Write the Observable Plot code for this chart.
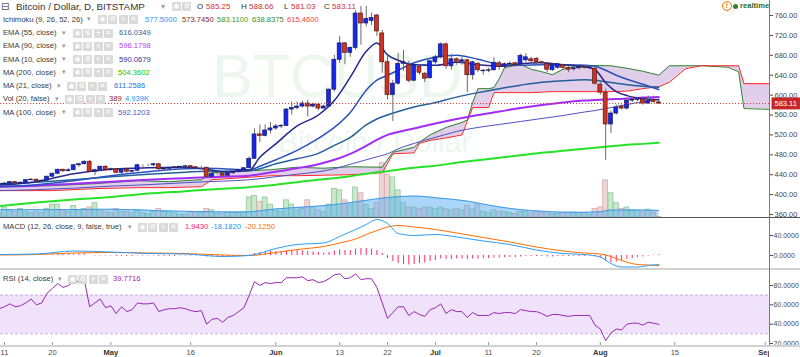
<!DOCTYPE html>
<html><head><meta charset="utf-8">
<script src="https://cdn.jsdelivr.net/npm/d3@7"></script>
<script src="https://cdn.jsdelivr.net/npm/@observablehq/plot@0.6"></script>
<style>
html,body{margin:0;padding:0;background:#fff}
#wrap{position:relative;width:800px;height:357px;overflow:hidden;font-family:"Liberation Sans",Arial,sans-serif}
#wrap svg{max-width:none !important}
.t{position:absolute;white-space:nowrap;line-height:1.2}
.ic{position:absolute;width:9px;height:9px;background:#dadada;color:#fff;font-size:7px;line-height:9px;text-align:center;font-family:"DejaVu Sans",sans-serif;border-radius:1px}
.wm{position:absolute;white-space:nowrap;line-height:1;color:#eef7ee}
.blk{position:absolute}
</style></head><body><div id="wrap"></div><script>
// ---------------- DATA (daily candles, 2016-04-10 .. 2016-08-12) ----------------
const candleStart = "2016-04-10";
const opens = [419,421,422,425,423,424,429,430,427,428,436,442,450,447,449,459,461,466,446,449,456,
450,451,444,450,446,448,459,459,459,461,451,452,454,455,456,457,455,454,454,436,442,442,438,443,445,449,453,472,521,518,529,
533,537,538,571,574,577,583,577,581,573,577,611,671,704,685,695,764,744,749,760,724,666,600,623,663,660,629,657,643,634,
666,676,702,658,672,667,670,640,663,648,649,650,664,657,662,664,662,670,672,673,666,663,650,655,660,655,652,654,656,655,653,
621,605,541,563,577,573,589,590,591,583,590,585.25];
const highs = [422,424,427,426,425,431,432,431,429,437,443,451,451,452,461,463,468,469,451,457,458,
453,452,451,451,449,461,460,461,463,462,453,455,456,457,459,458,456,457,455,444,444,443,445,446,450,454,476,532,540,540,545,
541,541,573,586,586,588,590,584,582,580,612,680,718,706,697,770,778,778,765,762,730,680,630,684,690,668,662,660,645,670,
680,705,705,682,675,676,672,668,666,652,654,675,668,665,667,666,682,683,676,675,668,665,662,664,662,657,658,658,659,659,656,
627,612,568,580,580,592,596,594,593,598,598,588.66];
const lows = [418,420,421,421,422,423,428,425,426,427,434,440,444,446,448,455,460,444,438,447,447,
447,442,441,443,444,446,455,456,456,448,449,450,452,453,454,452,451,451,433,434,440,436,437,441,444,447,452,471,505,516,522,
529,533,537,560,570,574,556,574,568,572,576,606,664,661,676,690,700,737,740,718,644,590,547,620,648,625,627,640,625,632,
662,673,652,650,660,660,605,630,645,640,645,648,650,652,658,656,660,665,664,660,660,645,648,652,650,645,648,651,652,652,620,
600,469,523,560,570,570,585,587,580,581,584,581.03];
const closes = [421,422,425,423,424,429,430,427,428,436,442,450,447,449,459,461,466,446,449,456,450,
451,444,450,446,448,459,459,459,461,451,452,454,455,456,457,455,454,454,436,442,442,438,443,445,449,453,472,521,518,529,533,
537,538,571,574,577,583,577,581,573,577,611,671,704,685,695,764,744,753,755,728,666,600,623,663,666,629,660,645,633,668,
676,702,658,672,667,670,640,666,650,649,650,665,657,662,663,661,679,676,668,666,665,651,660,662,655,651,654,656,655,656,623,
605,541,563,575,573,589,590,591,583,589,586,583.11];
// volume in thousands of BTC
const volumes = [3,7,5,4,6,4,3,4,3.5,6,9,9,5,4,8,5,6,7,10,5,4,
3,6,4,4,3,5,3,2.5,4,6,4,3.5,3,2,2,4,3.5,3,6,5,2.5,2.5,3.5,3,3.5,4,14,15,11,14,9,
5,4,12,9,5,6,12,7,5,4,9,20,19,12,9,21,17,9,6,10,38,30,28,19,10,7,7,6,7,7,
6,7,6,5,6,5,8,6,9,4,3,5,4,4,3,2.5,4,4,3,4,3,4,2.5,2.5,3,3,3.5,3,3,2,6,
7,26,17,10,6,7,5,4.5,4,5.5,3.5,0.389];
const rsiValues = [56,58,61,58,59,62,66,60,62,72,77,82,78,80,84,84,86,58,62,66,57,
59,51,58,53,55,62,61,61,62,53,55,56,56,57,56,54,53,54,40,45,46,42,47,49,53,57,70,84,80,83,82,
83,83,88,88,88,89,85,86,83,84,87,91,92,87,88,92,86,87,87,78,62,46,52,58,58,49,53,50,48,55,
57,61,51,55,53,53,47,52,49,49,49,52,51,52,52,51,55,54,53,53,51,48,50,50,49,48,49,49,49,49,39,
35,23,31,35,34,40,41,41,39,42,41,39.77];
const macdHist = [1,1,1,0,0,1,1,0,0,1,2,3,2,2,3,3,3,0,-1,-1,-1,
-1,-2,-2,-2,-2,-1,-1,-1,-1,-2,-2,-2,-2,-1,-1,-1,-1,-1,-3,-3,-3,-3,-3,-2,-2,-1,1,4,6,8,9,
8,7,9,10,10,9,8,7,6,5,6,9,11,10,10,13,14,14,13,10,4,-6,-12,-16,-18,-19,-18,-16,-15,-12,
-10,-7,-8,-8,-7,-7,-8,-7,-7,-6,-6,-5,-5,-4,-4,-4,-3,-2,-2,-2,-2,-3,-3,-2,-2,-2,-2,-2,-2,-1,-3,
-5,-12,-14,-13,-11,-8,-6,-4,-3,-1,1,1.943];

// moving averages read at sample dates
const maDates = ["2016-04-10","2016-04-17","2016-04-24","2016-05-01","2016-05-08","2016-05-15","2016-05-19","2016-05-22","2016-05-27","2016-05-29","2016-06-01","2016-06-05","2016-06-09","2016-06-12","2016-06-15","2016-06-18","2016-06-20","2016-06-22","2016-06-24","2016-06-27","2016-07-01","2016-07-05","2016-07-09","2016-07-13","2016-07-17","2016-07-21","2016-07-25","2016-07-29","2016-07-31","2016-08-02","2016-08-04","2016-08-06","2016-08-09","2016-08-12"];
const ema10 = [419,426,442,451,454,455,451,446,449,475,502,538,560,589,636,688,705,681,670,661,660,666,661,658,663,665,661,657,651,625,607,599,593,590.07];
const ma21  = [416,420,428,438,446,452,453,452,450,457,470,489,513,535,565,610,630,640,650,665,676,680,672,662,660,661,661,660,658,650,640,632,622,611.26];
const ema55 = [422,425,430,436,441,445,447,447,448,452,462,472,483,499,515,540,552,560,567,576,585,596,605,613,620,626,629,631,630,627,624,621,618,616.03];
const ema90 = [416,418,422,426,430,433,435,436,438,441,446,453,461,470,482,498,510,520,526,533,543,552,560,567,574,580,585,589,590,591,592,593,595,596.18];
const ma100 = [408,410,413,417,420,424,426,427,430,432,436,441,446,452,461,470,476,482,492,503,515,527,535,541,547,553,559,566,569,573,577,581,587,592.12];
const ma200 = [377,384,390,395,402,407,410,412,415,417,420,425,430,433,437,442,445,447,450,454,458,464,469,474,479,484,488,492,494,496,498,500,502,504.36];

// Ichimoku cloud (leading spans, shifted 26 bars ahead)
const cloudDates = ["2016-04-10","2016-04-20","2016-04-28","2016-05-06","2016-05-12","2016-05-18","2016-05-20","2016-05-23","2016-05-31","2016-06-05","2016-06-10","2016-06-15","2016-06-21","2016-06-23","2016-06-27","2016-06-28","2016-06-30","2016-07-03","2016-07-06","2016-07-07","2016-07-08","2016-07-09","2016-07-11","2016-07-12","2016-07-13","2016-07-14","2016-07-17","2016-07-19","2016-07-21","2016-07-23","2016-07-25","2016-07-28","2016-08-03","2016-08-06","2016-08-09","2016-08-12","2016-08-14","2016-08-17","2016-08-20","2016-08-25","2016-08-27","2016-08-28","2016-09-06"];
const spanA = [416,418,422,428,426,430,444,446,450,455,453,456,455,485,495,505,520,535,545,550,585,613,613,615,633,655,662,652,647,641,652,660,659,654,648,640,659,659,659,656,647,573,570];
const spanB = [408,408,412,414,414,416,430,432,438,438,439,440,444,482,484,503,509,514,520,548,575,575,575,605,605,605,605,605,606,607,607,607,607,608,613,617,626,653,659,659,659,623,623];

// MACD lines read at sample dates
const macdDates = ["2016-04-10","2016-04-17","2016-04-24","2016-05-01","2016-05-08","2016-05-15","2016-05-22","2016-05-27","2016-06-01","2016-06-05","2016-06-10","2016-06-13","2016-06-16","2016-06-18","2016-06-20","2016-06-22","2016-06-24","2016-06-27","2016-07-01","2016-07-05","2016-07-10","2016-07-15","2016-07-20","2016-07-25","2016-07-29","2016-08-01","2016-08-03","2016-08-05","2016-08-08","2016-08-10","2016-08-12"];
const macdLine   = [2,3,9,7,4,3,-2,0,14,22,25,38,52,62,72,64,44,40,42,37,29,22,11,4,2,-3,-16,-23,-23,-20,-18.18];
const signalLine = [1,2,5,6,5,4,1,0,6,12,18,25,33,42,50,57,60,57,52,45,36,27,17,9,5,3,-2,-10,-18,-19,-20.125];

// volume moving average (thousands)
const volMaDates = ["2016-04-10","2016-04-20","2016-05-01","2016-05-10","2016-05-20","2016-05-26","2016-06-01","2016-06-07","2016-06-12","2016-06-17","2016-06-22","2016-06-27","2016-07-02","2016-07-07","2016-07-12","2016-07-17","2016-07-22","2016-07-27","2016-08-01","2016-08-03","2016-08-08","2016-08-12"];
const volMa = [5.5,5.5,5.8,4.8,4,3.8,6,7.5,9,11.5,14,15,13.5,11.5,8,5.5,4.2,3.6,4,5.2,5.3,4.94];

const lastClose = 583.11;
const priceTicks = [360,400,440,480,520,560,600,640,680,720,760];
const macdTicks = [0,40];
const rsiTicks = [20,40,60,80];
const rsiBand = [30,70];
const xTickDates = ["2016-04-11","2016-04-20","2016-05-01","2016-05-16","2016-06-01","2016-06-13","2016-06-22","2016-07-01","2016-07-11","2016-07-20","2016-08-01","2016-08-15","2016-09-01"];
const xTickLabels = ["11","20","May","16","Jun","13","22","Jul","11","20","Aug","15","Sep"];

// ---------------- BUILD ----------------
const DAY = 864e5;
const parse = s => new Date(s + "T00:00:00Z");
const t0 = +parse(candleStart);
const xDomain = [new Date(t0 + 0.248 * DAY), new Date(t0 + 144.8 * DAY)];
const days = d3.utcDay.range(new Date(t0), new Date(t0 + opens.length * DAY));
const candles = days.map((date, i) => ({date, open: opens[i], high: highs[i], low: lows[i], close: closes[i], vol: volumes[i], rsi: rsiValues[i], hist: macdHist[i]}));
const mas = maDates.map((d, i) => ({date: parse(d), ema10: ema10[i], ma21: ma21[i], ema55: ema55[i], ema90: ema90[i], ma100: ma100[i], ma200: ma200[i]}));
const cloud = cloudDates.map((d, i) => ({date: parse(d), a: spanA[i], b: spanB[i]}));
const macdData = macdDates.map((d, i) => ({date: parse(d), macd: macdLine[i], signal: signalLine[i]}));
const volMaData = volMaDates.map((d, i) => ({date: parse(d), v: volMa[i]}));
const xTicks = xTickDates.map((d, i) => ({date: parse(d), label: xTickLabels[i], month: isNaN(+xTickLabels[i])}));

const up = d => d.close >= d.open;
const bx1 = w => d => new Date(+d.date - w * DAY);
const bx2 = w => d => new Date(+d.date + w * DAY);
const FONT = "'Liberation Sans', Arial, sans-serif";

function mk(h, yOpts, marks, xOpts = {axis: null}) {
  return Plot.plot({
    width: 800, height: h, marginLeft: 0, marginRight: 31, marginTop: 0, marginBottom: 0,
    x: {type: "utc", domain: xDomain, label: null, ...xOpts},
    y: {label: null, ...yOpts},
    color: {type: "identity"},
    style: {background: "transparent", fontFamily: FONT, fontSize: "7.5px", color: "#4a4a4a", overflow: "visible", maxWidth: "none"},
    marks
  });
}
const wrap = document.getElementById("wrap");
function place(el, top) { el.style.position = "absolute"; el.style.left = "0px"; el.style.top = top + "px"; wrap.appendChild(el); return el; }
function blk(l, t, w, h, bg) { const e = document.createElement("div"); e.className = "blk"; e.style.cssText = `left:${l}px;top:${t}px;width:${w}px;height:${h}px;background:${bg}`; wrap.appendChild(e); return e; }

// watermark
const wm1 = document.createElement("div"); wm1.className = "wm"; wm1.style.cssText += "left:212px;top:46px;font-size:61px"; wm1.textContent = "BTCUSD"; wrap.appendChild(wm1);
const wm2 = document.createElement("div"); wm2.className = "wm"; wm2.style.cssText += "left:278px;top:127px;font-size:30px"; wm2.textContent = "Bitcoin / Dollar"; wrap.appendChild(wm2);

// volume pane (own scale, behind price)
place(mk(217, {domain: [0, 152], axis: null}, [
  Plot.rect(candles, {x1: bx1(0.46), x2: bx2(0.46), y1: 0, y2: "vol", fill: d => up(d) ? "#cbe8cd" : "#efd6d6", stroke: d => up(d) ? "#8cc895" : "#d9abab", strokeWidth: 0.8, clip: true}),
  Plot.areaY(volMaData, {x: "date", y: "v", fill: "#5aaef2", fillOpacity: 0.5, curve: "monotone-x", clip: true}),
  Plot.lineY(volMaData, {x: "date", y: "v", stroke: "#3f9be8", strokeWidth: 1, curve: "monotone-x", clip: true})
]), 0);

// main price pane
const mainSvg = place(mk(217, {domain: [354, 790.2]}, [
  Plot.areaY(cloud, {x: "date", y1: "a", y2: "b", fill: "#c7a6da", fillOpacity: 0.55, clip: true}),
  Plot.lineY(cloud, {x: "date", y: "a", stroke: "#2f8a2f", strokeWidth: 1, clip: true}),
  Plot.lineY(cloud, {x: "date", y: "b", stroke: "#ff2424", strokeWidth: 1, clip: true}),
  Plot.lineY(mas, {x: "date", y: "ma200", stroke: "#27e327", strokeWidth: 2, curve: "monotone-x", clip: true}),
  Plot.lineY(mas, {x: "date", y: "ma100", stroke: "#4f52c0", strokeWidth: 1, curve: "monotone-x", clip: true}),
  Plot.lineY(mas, {x: "date", y: "ema90", stroke: "#a22cf5", strokeWidth: 2, curve: "monotone-x", clip: true}),
  Plot.lineY(mas, {x: "date", y: "ema55", stroke: "#22609a", strokeWidth: 1.5, curve: "monotone-x", clip: true}),
  Plot.lineY(mas, {x: "date", y: "ma21", stroke: "#2a52be", strokeWidth: 1.5, curve: "monotone-x", clip: true}),
  Plot.lineY(mas, {x: "date", y: "ema10", stroke: "#26288f", strokeWidth: 1.5, curve: "monotone-x", clip: true}),
  Plot.ruleX(candles, {x: "date", y1: "low", y2: "high", stroke: "#6b6b6b", strokeWidth: 1, clip: true}),
  Plot.rect(candles, {x1: bx1(0.37), x2: bx2(0.37), y1: "open", y2: "close", fill: d => up(d) ? "#1428f0" : "#cc3322", stroke: d => up(d) ? "#1b1b5e" : "#5e1410", strokeWidth: 0.7, clip: true}),
  Plot.ruleY([lastClose], {y: d => d, stroke: "#e53935", strokeDasharray: "1,2", strokeWidth: 1}),
  Plot.axisY({anchor: "right", ticks: priceTicks, tickFormat: d3.format(".2f"), tickSize: 3, tickPadding: 2, label: null}),
  Plot.text([lastClose], {y: d => d, frameAnchor: "right", dx: 5, textAnchor: "start", text: d => d.toFixed(2), fill: "#ffffff", fontSize: 7.5})
]), 0);
// price label box behind last-price text
{
  const lbl = [...mainSvg.querySelectorAll("text")].find(t => t.textContent === lastClose.toFixed(2));
  if (lbl) {
    const bb = lbl.getBBox();
    const r = document.createElementNS("http://www.w3.org/2000/svg", "rect");
    r.setAttribute("x", bb.x - 3); r.setAttribute("y", bb.y - 1.5);
    r.setAttribute("width", bb.width + 10); r.setAttribute("height", bb.height + 3);
    r.setAttribute("fill", "#c62828");
    if (lbl.getAttribute("transform")) r.setAttribute("transform", lbl.getAttribute("transform"));
    lbl.parentNode.insertBefore(r, lbl);
  }
}

// MACD pane
place(mk(50, {domain: [-26, 74]}, [
  Plot.ruleX(candles, {x: "date", y1: 0, y2: "hist", stroke: "#ff2a6a", strokeWidth: 1, clip: true}),
  Plot.lineY(macdData, {x: "date", y: "signal", stroke: "#ff6d00", strokeWidth: 1, curve: "monotone-x", clip: true}),
  Plot.lineY(macdData, {x: "date", y: "macd", stroke: "#2a9df4", strokeWidth: 1, curve: "monotone-x", clip: true}),
  Plot.axisY({anchor: "right", ticks: macdTicks, tickFormat: d3.format(".4f"), tickSize: 3, tickPadding: 1, fontSize: 7, label: null})
]), 218);

// RSI pane
place(mk(75, {domain: [17.93, 95.52]}, [
  Plot.areaY(xDomain, {x: d => d, y1: () => rsiBand[0], y2: () => rsiBand[1], fill: "#f1e2fc"}),
  Plot.ruleY(rsiBand, {y: d => d, stroke: "#c7aedb", strokeDasharray: "3,2"}),
  Plot.lineY(candles, {x: "date", y: "rsi", stroke: "#9a27b0", strokeWidth: 1, clip: true}),
  Plot.axisY({anchor: "right", ticks: rsiTicks, tickFormat: d3.format(".4f"), tickSize: 3, tickPadding: 1, fontSize: 7, label: null}),
  Plot.axisX({anchor: "bottom", ticks: xTicks.map(d => d.date), tickSize: -3, tickFormat: () => "", label: null, stroke: "#999"})
], {}), 270);

// x axis labels (clipped at right axis line)
{
  const box = document.createElement("div");
  box.style.cssText = "position:absolute;left:0;top:347px;width:769px;height:10px;overflow:hidden";
  const ax = mk(10, {domain: [0, 1], axis: null}, [
    Plot.text(xTicks.filter(d => !d.month), {x: "date", text: "label", frameAnchor: "middle", fill: "#4a4a4a", fontSize: 7.5}),
    Plot.text(xTicks.filter(d => d.month), {x: "date", text: "label", frameAnchor: "middle", fill: "#333", fontSize: 7.5, fontWeight: "bold"})
  ]);
  ax.style.position = "absolute"; ax.style.left = "0px"; ax.style.top = "0px"; ax.style.maxWidth = "none"; ax.style.width = "800px";
  box.appendChild(ax); wrap.appendChild(box);
}

// separators and axis line
blk(0, 217, 800, 1, "#555");
blk(0, 268, 800, 2, "#d2d2d2");
blk(0, 345, 800, 2, "#d2d2d2");
blk(769, 0, 1, 345, "#7a7a7a");

// ---------------- LEGEND TEXT ----------------
function txt(x, y, s, color, size = 7.6, weight = 400, fam) {
  const el = document.createElement("div"); el.className = "t";
  el.style.cssText = `left:${x}px;top:${y - size * 0.6}px;font-size:${size}px;color:${color};font-weight:${weight}` + (fam ? `;font-family:${fam}` : "");
  el.textContent = s; wrap.appendChild(el);
}
function icons(x, y, glyphs) {
  glyphs.forEach((g, k) => { const el = document.createElement("div"); el.className = "ic"; el.style.left = (x + k * 10.3) + "px"; el.style.top = (y - 4.5) + "px"; el.textContent = g; wrap.appendChild(el); });
}
const ICON4 = ["◉", "⚙", "+", "✕"];
const LBL = "#3a3a3a", ARR = "#9a9a9a";
txt(1, 6.5, "⊟", "#555", 10, 400, "'DejaVu Sans'");
txt(16, 6.5, "Bitcoin / Dollar, D, BITSTAMP", "#333", 9.8);
txt(161, 6.5, "▾", ARR, 8, 400, "'DejaVu Sans'");
icons(172, 6.5, ["◉", "⚙"]);
[["O", 197, "585.25", 206], ["H", 241, "588.66", 249], ["L", 284, "581.03", 291], ["C", 324, "583.11", 332]].forEach(([k, x1, v, x2]) => { txt(x1, 6.5, k, "#333", 8); txt(x2, 6.5, v, "#d32f2f", 8); });

txt(3, 19.5, "Ichimoku (9, 26, 52, 26)", LBL);
txt(87, 19.5, "▾", ARR, 7, 400, "'DejaVu Sans'");
icons(98, 19.5, ICON4);
[["577.5000", 145, "#2196f3"], ["573.7450", 182, "#8b1a1a"], ["583.1100", 217, "#459915"], ["638.8375", 252, "#3a8a30"], ["615.4600", 287, "#ff3b3b"]].forEach(([v, x, c]) => txt(x, 19.5, v, c));

const rows = [
  ["EMA (55, close)", 33, 62, 73, [["616.0349", 119, "#2962a8"]]],
  ["EMA (90, close)", 46, 62, 73, [["596.1798", 119, "#b23cfd"]]],
  ["EMA (10, close)", 59.5, 62, 73, [["590.0679", 119, "#3030a0"]]],
  ["MA (200, close)", 72.5, 62, 73, [["504.3602", 118, "#00cc00"]]],
  ["MA (21, close)", 86, 57, 67, [["611.2586", 114, "#1e6fe0"]]],
  ["Vol (20, false)", 99, 55, 65, [["389", 109, "#8b2020"], ["4.939K", 125, "#2196f3"]]],
  ["MA (100, close)", 112.5, 62, 73, [["592.1203", 118, "#4f4fc0"]]],
  ["MACD (12, 26, close, 9, false, true)", 227, 128, 138, [["1.9430", 185, "#ff1a6a"], ["-18.1820", 211, "#2196f3"], ["-20.1250", 245, "#ff6d00"]]],
  ["RSI (14, close)", 279, 58, 68, [["39.7716", 113, "#9c27b0"]]]
];
rows.forEach(([label, y, ax, ix, vals]) => {
  txt(3, y, label, LBL);
  txt(ax, y, "▾", ARR, 7, 400, "'DejaVu Sans'");
  icons(ix, y, ICON4);
  vals.forEach(([v, x, c]) => txt(x, y, v, c));
});

// realtime badge
{
  const c = document.createElement("div");
  c.style.cssText = "position:absolute;left:722px;top:1px;width:8px;height:8px;border:1.5px solid #ff6d00;border-radius:50%;color:#ff6d00;font-size:7px;line-height:8px;text-align:center;font-weight:bold";
  c.textContent = "!"; wrap.appendChild(c);
  const g = document.createElement("div");
  g.style.cssText = "position:absolute;left:733px;top:3.5px;width:5px;height:5px;border-radius:50%;background:#2e7d32";
  wrap.appendChild(g);
  txt(740, 6, "realtime", "#2e6b2e", 7.6, 700);
}
</script></body></html>
